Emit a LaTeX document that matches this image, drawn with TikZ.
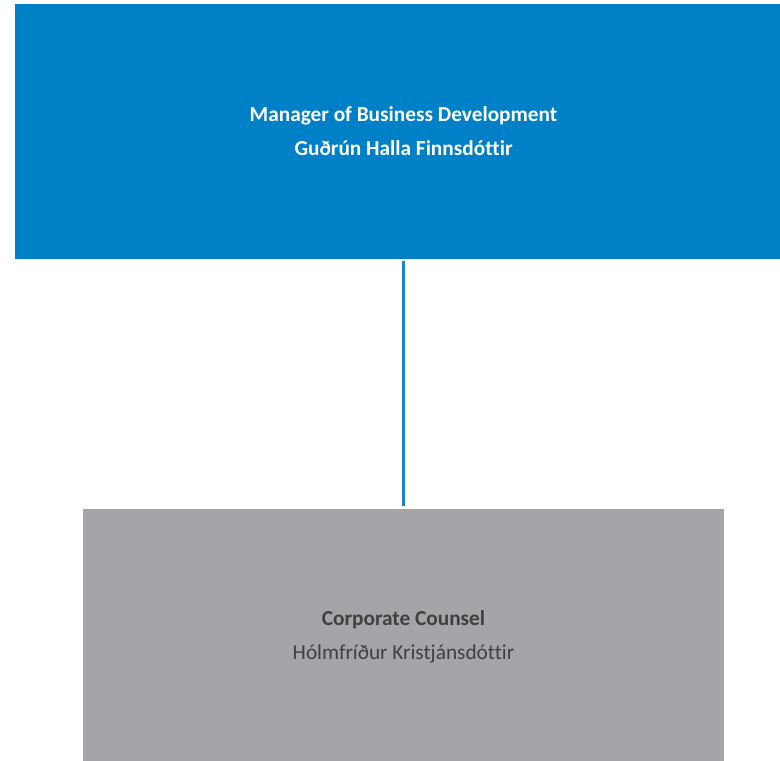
\documentclass[tikz,border=0pt]{standalone}
\usepackage{fontspec}
\setmainfont[Ligatures=NoCommon]{Carlito}
\definecolor{topblue}{HTML}{0080C6}
\definecolor{boxgray}{HTML}{A5A4A9}
\definecolor{txtgray}{HTML}{404040}
\definecolor{linkblue}{HTML}{1A86C0}
\begin{document}
\begin{tikzpicture}[x=1pt,y=-1pt,
  boxtext/.style={align=center,font=\fontsize{21.3}{34}\selectfont},
  link/.style={draw=linkblue,line width=2.2pt}]
\useasboundingbox (0,0) rectangle (780,761);
\clip (0,0) rectangle (780,761);
\fill[topblue] (15,4) rectangle (792,258.5);
\fill[boxgray] (83,509) rectangle (724,770);
\node[boxtext,text=white] (mgr) at (403.5,131) {\textbf{Manager of Business Development}\\\textbf{Guðrún Halla Finnsdóttir}};
\node[boxtext,text=txtgray] (cc) at (403.5,637) {\textbf{Corporate Counsel}\\Hólmfríður Kristjánsdóttir};
\coordinate (a) at (403.5,261);
\coordinate (b) at (403.5,506);
\draw[link] (a) -- (b);
\end{tikzpicture}
\end{document}
